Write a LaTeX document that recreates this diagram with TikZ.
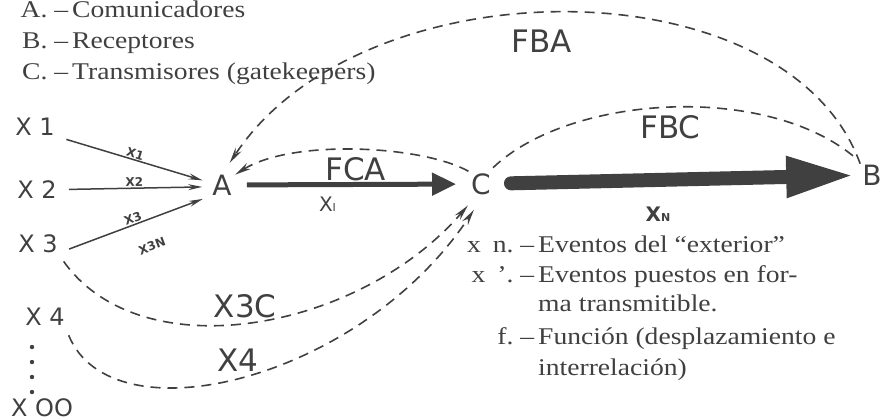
\documentclass[tikz,border=0pt]{standalone}
\usepackage{fontspec}
\setmainfont{Liberation Serif}[FakeStretch=1.15]
\newfontfamily\lettering{DejaVu Sans}
\usetikzlibrary{arrows.meta}

\tikzset{
	big/.style={font=\lettering\fontsize{28}{28}\selectfont, inner sep=0pt},
	flowlbl/.style={font=\lettering\fontsize{31}{31}\selectfont, inner sep=0pt},
	side/.style={font=\lettering\fontsize{24}{24}\selectfont, inner sep=0pt},
	tag/.style={font=\lettering\bfseries\fontsize{12}{12}\selectfont, inner sep=1pt},
	note/.style={font=\fontsize{24}{24}\selectfont, inner sep=0pt, anchor=base west},
	thin/.style={line width=1.5pt, -{Stealth[length=14pt,width=6pt]}},
	flow/.style={line width=1.6pt, dash pattern=on 10pt off 7pt},
	flowarrow/.style={flow, -{Stealth[length=16pt,width=7pt]}},
}

\begin{document}
\begin{tikzpicture}[x=1pt,y=-1pt,black!75]
	\useasboundingbox (0,0) rectangle (885,418);

	\node[note] (la) at (72,17) {\llap{A.~--\,}Comunicadores};
	\node[note] (lb) at (72,48) {\llap{B.~--\,}Receptores};
	\node[note] (lc) at (72,79) {\llap{C.~--\,}Transmisores (gatekeepers)};

	\node[big] (A) at (222,185) {A};
	\node[big] (C) at (481,184) {C};
	\node[big] (B) at (872,175) {B};

	\node[side] (x1) at (35,127) {X 1};
	\node[side] (x2) at (37,190) {X 2};
	\node[side] (x3) at (38,244) {X 3};
	\node[side] (x4) at (45,317) {X 4};
	\node[side] (xoo) at (42,408) {X OO};

	\fill (32,347) circle (2.2);
	\fill (32,362) circle (2.2);
	\fill (32,377) circle (2.2);
	\fill (32,392) circle (2.2);

	\path[thin] (x1.south east) edge[shorten <=12pt, shorten >=10pt] node[tag,above,sloped] {X1} (A.170);
	\path[thin] (x2) edge[shorten <=12pt, shorten >=10pt] node[tag,above,sloped] {X2} (A.190);
	\path[thin] (x3.south east) edge[shorten <=12pt, shorten >=10pt] node[tag,above,sloped] {X3} node[tag,below=20pt,sloped,pos=0.55] {X3N} (A.south west);

	\draw[line width=5pt, -{Triangle[length=24pt,width=22pt]}, shorten <=15pt, shorten >=15pt] (A) -- node[big,pos=0.4,below=10pt] {\fontsize{20}{20}\selectfont X{\fontsize{11}{11}\selectfont I}} (C);
	\draw[line width=14pt, line cap=round, -{Triangle[length=68pt,width=38pt]}, shorten <=20pt, shorten >=8pt] (C) -- node[big,pos=0.45,below=20pt] {\bfseries\fontsize{20}{20}\selectfont X{\fontsize{11}{11}\selectfont N}} (B);

	\draw[flowarrow, shorten <=4pt, shorten >=4pt] (C.130) .. controls +(-50,-28) and +(60,-38) .. node[flowlbl,below=6pt] {FCA} (A.40);
	\draw[flowarrow, shorten <=6pt, shorten >=14pt] (B.150) .. controls +(-75,-207) and +(140,-212) .. node[flowlbl,below=14pt,xshift=-25pt] {FBA} (A.north);
	\draw[flow, shorten <=8pt, shorten >=10pt] (C.60) .. controls +(83,-79) and +(-96,-82) .. node[flowlbl,below=6pt] {FBC} (B.130);
	\draw[flowarrow, shorten <=10pt, shorten >=14pt] (x3.south east) .. controls +(84,118) and +(-117,136) .. node[flowlbl,above=1pt,xshift=-10pt] {X3C} (C.250);
	\draw[flowarrow, shorten <=10pt, shorten >=18pt] (x4.south east) .. controls +(47,115) and +(-124,186) .. node[flowlbl,above=1pt,xshift=-8pt] {X4} (C.285);

	\node[note] (na) at (538,252) {\llap{x\enspace n.~--\,}Eventos del ``exterior''};
	\node[note] (nb) at (538,282) {\llap{x\enspace '.~--\,}Eventos puestos en for-};
	\node[note] (nc) at (538,311) {ma transmitible.};
	\node[note] (nd) at (538,344) {\llap{f.~--\,}Función (desplazamiento e};
	\node[note] (ne) at (538,375) {interrelación)};
\end{tikzpicture}
\end{document}
